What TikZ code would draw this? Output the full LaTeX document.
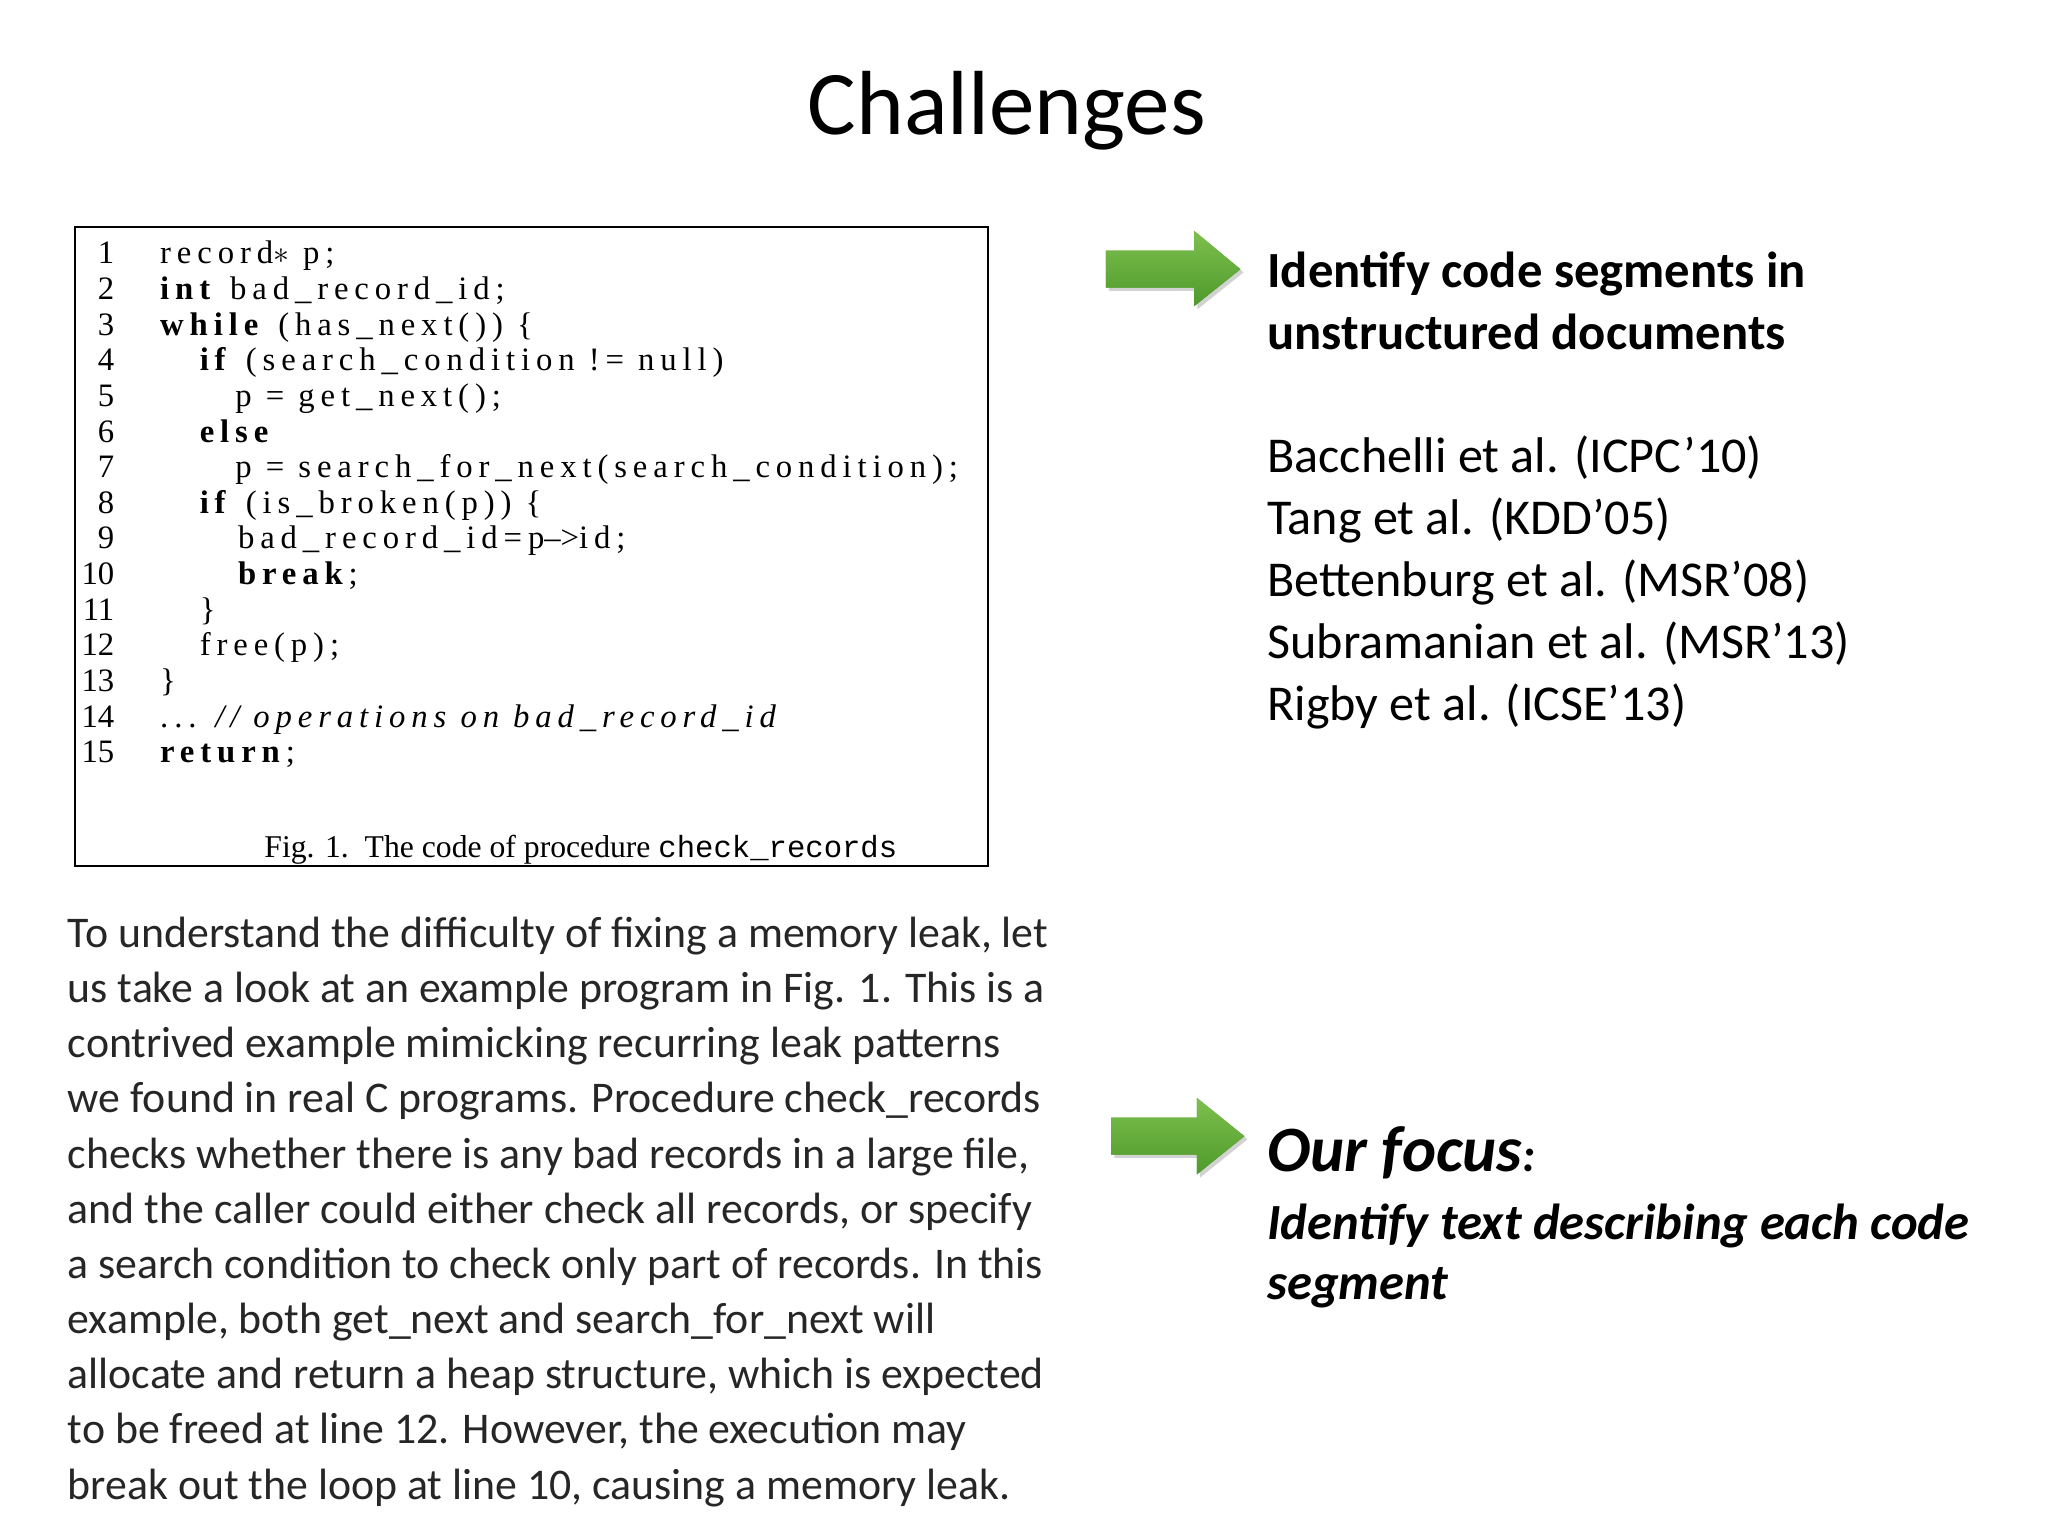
\documentclass[tikz,border=0pt]{standalone}
\usepackage{fontspec}
\setmainfont{Carlito}
\newfontfamily\codefont[LetterSpace=18]{Liberation Serif}
\newfontfamily\capfont{Liberation Serif}
\newfontfamily\capmono{Liberation Mono}
\usetikzlibrary{shadows}
\definecolor{grA}{HTML}{7DC04F}
\definecolor{grB}{HTML}{4E9A2A}
\tikzset{
  txt/.style={anchor=base west, inner sep=0pt},
  para/.style={txt, font=\fontsize{16.6}{20}\selectfont, text=black!85},
  refs/.style={txt, font=\fontsize{19}{22}\selectfont},
  code/.style={txt, font=\codefont\fontsize{12.4}{14}\selectfont},
  num/.style={anchor=base east, inner sep=0pt, font=\capfont\fontsize{12.4}{14}\selectfont},
  head/.style={txt, font=\bfseries\fontsize{19.2}{22}\selectfont},
  garrow/.style={fill=grB, top color=grA, bottom color=grB, draw=none, drop shadow={opacity=0.35, shadow xshift=1.2pt, shadow yshift=-1.2pt}}
}
\begin{document}
\begin{tikzpicture}[x=0.5pt,y=-0.5pt]
\useasboundingbox[fill=white] (0,0) rectangle (1552,1164);
\node[anchor=base, inner sep=0pt, font=\fontsize{34.5}{40}\selectfont] (title) at (763,102) {Challenges};
% code box
\draw[line width=0.8pt] (57,172) rectangle (749,656);
\foreach \i/\y in {1/192,2/219,3/246,4/273,5/300,6/327,7/354,8/381,9/408,10/435,11/462,12/489,13/516,14/543,15/570}
  \node[num] (n\i) at (87,\y+8) {\i};
\node[code] (c1) at (121,200) {record$*$ p;};
\node[code] (c2) at (121,227) {\textbf{int} bad\_record\_id;};
\node[code] (c3) at (121,254) {\textbf{while} (has\_next()) \{};
\node[code] (c4) at (151,281) {\textbf{if} (search\_condition != null)};
\node[code] (c5) at (178,308) {p = get\_next();};
\node[code] (c6) at (151,335) {\textbf{else}};
\node[code] (c7) at (178,362) {p = search\_for\_next(search\_condition);};
\node[code] (c8) at (151,389) {\textbf{if} (is\_broken(p)) \{};
\node[code] (c9) at (180,416) {bad\_record\_id=p{\capfont–>}id;};
\node[code] (c10) at (180,443) {\textbf{break};};
\node[code] (c11) at (151,470) {\}};
\node[code] (c12) at (151,497) {free(p);};
\node[code] (c13) at (121,524) {\}};
\node[code] (c14) at (121,551) {... \textit{// operations on bad\_record\_id}};
\node[code] (c15) at (121,578) {\textbf{return};};
\node[txt, font=\capfont\fontsize{12}{14}\selectfont] (cap) at (200,650) {Fig. 1.\ \ The code of procedure {\capmono\fontsize{11.6}{14}\selectfont check\_records}};
% paragraph
\foreach \t [count=\k from 0] in {
{To understand the difficulty of fixing a memory leak, let},
{us take a look at an example program in Fig. 1. This is a},
{contrived example mimicking recurring leak patterns},
{we found in real C programs. Procedure check\_records},
{checks whether there is any bad records in a large file,},
{and the caller could either check all records, or specify},
{a search condition to check only part of records. In this},
{example, both get\_next and search\_for\_next will},
{allocate and return a heap structure, which is expected},
{to be freed at line 12. However, the execution may},
{break out the loop at line 10, causing a memory leak.}}
  \node[para] (p\k) at (51,718+41.8*\k) {\t};
% arrows
\fill[garrow] (838,190) -- (905,190) -- (905,175) -- (940,204) -- (905,232) -- (905,218) -- (838,218) -- cycle;
\fill[garrow] (842,847) -- (907,847) -- (907,832) -- (943,861) -- (907,890) -- (907,875) -- (842,875) -- cycle;
% right text
\node[head] (h1) at (960,218) {Identify code segments in};
\node[head] (h2) at (960,265) {unstructured documents};
\node[refs] (r1) at (960,358) {Bacchelli et al. (ICPC’10)};
\node[refs] (r2) at (960,405) {Tang et al. (KDD’05)};
\node[refs] (r3) at (960,452) {Bettenburg et al. (MSR’08)};
\node[refs] (r4) at (960,499) {Subramanian et al. (MSR’13)};
\node[refs] (r5) at (960,546) {Rigby et al. (ICSE’13)};
\node[txt, font=\bfseries\itshape\fontsize{24.5}{28}\selectfont] (f0) at (960,888) {Our focus{\fontsize{18}{22}\selectfont:}};
\node[txt, font=\bfseries\itshape\fontsize{19.2}{22}\selectfont] (f1) at (960,939) {Identify text describing each code};
\node[txt, font=\bfseries\itshape\fontsize{19.2}{22}\selectfont] (f2) at (960,985) {segment};
\end{tikzpicture}
\end{document}
